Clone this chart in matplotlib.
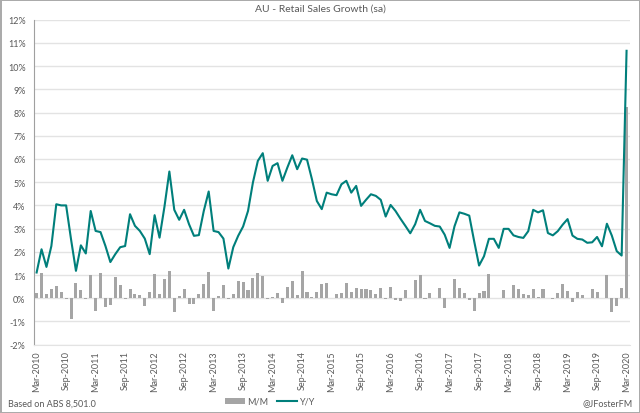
import matplotlib
matplotlib.use("Agg")
import matplotlib.pyplot as plt
import numpy as np
from matplotlib.patches import Patch
from matplotlib.lines import Line2D

plt.rcParams['font.family'] = ['Lato', 'DejaVu Sans']

# monthly, Mar-2010 .. Mar-2020
yy = [1.11, 2.11, 1.35, 2.25, 4.05, 4.00, 4.00, 2.54, 1.18, 2.28, 1.93, 3.76,
      2.90, 2.85, 2.25, 1.56, 1.90, 2.20, 2.25, 3.62, 3.12, 2.90, 2.57, 1.90,
      3.58, 2.61, 3.94, 5.46, 3.81, 3.38, 3.81, 3.19, 2.69, 2.72, 3.76, 4.60,
      2.90, 2.85, 2.57, 1.28, 2.20, 2.69, 3.09, 3.76, 4.99, 5.92, 6.25, 5.06,
      5.70, 5.82, 5.06, 5.63, 6.16, 5.56, 6.02, 5.97, 5.13, 4.19, 3.84, 4.55,
      4.48, 4.44, 4.91, 5.06, 4.55, 4.84, 3.98, 4.24, 4.48, 4.41, 4.24, 3.52,
      4.02, 3.76, 3.43, 3.12, 2.80, 3.19, 3.81, 3.33, 3.23, 3.12, 3.09, 2.74,
      2.17, 3.10, 3.70, 3.64, 3.56, 2.46, 1.41, 1.81, 2.56, 2.56, 2.17, 2.99,
      2.99, 2.71, 2.64, 2.60, 2.89, 3.81, 3.70, 3.79, 2.81, 2.71, 2.89, 3.17,
      3.41, 2.70, 2.56, 2.53, 2.39, 2.41, 2.64, 2.24, 3.21, 2.70, 2.03, 1.84,
      10.66]

mm = [0.21, 1.10, 0.20, 0.39, 0.53, 0.29, -0.05, -0.90, 0.64, 0.37, -0.05, 0.99,
      -0.57, 1.07, -0.36, -0.29, 0.90, 0.56, -0.03, 0.39, 0.20, 0.13, -0.33, 0.29,
      1.04, 0.17, 0.81, 1.19, -0.61, 0.11, 0.39, -0.26, -0.23, 0.20, 0.60, 1.13,
      -0.54, 0.10, 0.56, -0.04, 0.20, 0.74, 0.69, 0.34, 0.86, 1.10, 0.96, -0.03,
      0.07, 0.21, -0.19, 0.47, 0.73, 0.13, 1.16, 0.26, 0.06, 0.26, 0.60, 0.64,
      0.02, 0.17, 0.24, 0.64, 0.27, 0.43, 0.39, 0.41, 0.36, 0.20, 0.46, -0.02,
      0.49, -0.09, -0.10, 0.34, -0.01, 0.77, 0.99, -0.04, 0.24, 0.03, 0.46, -0.41,
      0.00, 0.84, 0.46, 0.24, -0.07, -0.54, 0.21, 0.30, 1.03, 0.01, 0.03, 0.34,
      0.03, 0.56, 0.39, 0.20, 0.13, 0.39, 0.04, 0.41, 0.00, -0.04, 0.24, 0.61,
      0.31, -0.14, 0.29, 0.13, -0.01, 0.41, 0.27, 0.01, 0.99, -0.61, -0.33, 0.46,
      8.22]

years = list(range(2010, 2021))
tick_labels = []
for y in years:
    tick_labels.append('Mar-%d' % y)
    if y < 2020:
        tick_labels.append('Sep-%d' % y)

teal = '#007F7B'
grey_bar = '#A5A5A5'
txt = '#595959'

x = np.arange(len(yy))

fig = plt.figure(figsize=(6.4, 4.14), dpi=100)
fig.patch.set_edgecolor('#ABABAB')
fig.patch.set_linewidth(2)
ax = fig.add_axes([0.053, 0.165, 0.931, 0.785])

ax.bar(x, mm, width=0.62, color=grey_bar, zorder=2)
ax.plot(x, yy, color=teal, linewidth=1.5, zorder=3)

ax.set_ylim(-2, 12)
ax.set_yticks(range(-2, 13))
ax.set_yticklabels(['%d%%' % v for v in range(-2, 13)])
ax.set_xlim(-0.55, 120.65)
ax.set_xticks(np.arange(0, 121, 6))
ax.set_xticklabels(tick_labels, rotation=90)

ax.grid(axis='y', color='#E3E3E3', linewidth=1, zorder=0)
ax.set_axisbelow(True)
for s in ['top', 'right']:
    ax.spines[s].set_visible(False)
ax.spines['left'].set_color('#A0A0A0')
ax.spines['bottom'].set_color('#E3E3E3')
ax.tick_params(axis='both', labelsize=6.5, colors=txt, length=0, pad=4)
ax.tick_params(axis='y', pad=6)

fig.text(0.5, 0.978, 'AU - Retail Sales Growth (sa)', ha='center', va='center',
         fontsize=7.5, color=txt)
fig.text(0.012, 0.024, 'Based on ABS 8,501.0', ha='left', va='center',
         fontsize=6.5, color=txt)
fig.text(0.988, 0.024, '@JFosterFM', ha='right', va='center',
         fontsize=6.5, color=txt)

handles = [Patch(facecolor=grey_bar, edgecolor='none'),
           Line2D([0], [0], color=teal, linewidth=1.5)]
fig.legend(handles, ['M/M', 'Y/Y'], loc='center', bbox_to_anchor=(0.422, 0.028),
           ncol=2, frameon=False, fontsize=6.5, handlelength=2.2, handleheight=0.7,
           columnspacing=1.0, handletextpad=0.3, labelcolor=txt)

fig.savefig('out.png', dpi=100)
